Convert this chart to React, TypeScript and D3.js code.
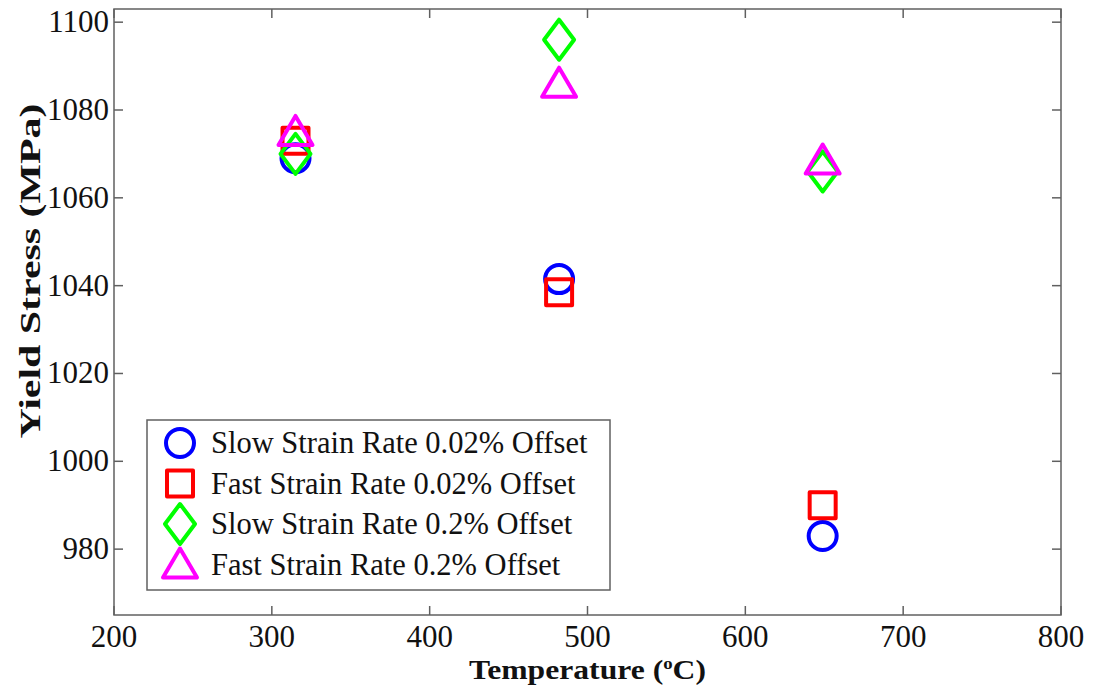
import React from 'react';
import * as d3 from 'd3';

const temperatures = [315, 482, 649];
const slow002 = [1069, 1041.5, 983];
const fast002 = [1073, 1038.5, 990];
const slow02 = [1070, 1096, 1066];
const fast02 = [1075, 1086, 1068.5];
const seriesNames = [
  'Slow Strain Rate 0.02% Offset',
  'Fast Strain Rate 0.02% Offset',
  'Slow Strain Rate 0.2% Offset',
  'Fast Strain Rate 0.2% Offset',
];
const seriesColors = ['#0000ff', '#ff0000', '#00ff00', '#ff00ff'];
const seriesShapes = ['circle', 'square', 'diamond', 'triangle'];
const xTicks = [200, 300, 400, 500, 600, 700, 800];
const yTicks = [980, 1000, 1020, 1040, 1060, 1080, 1100];

const W = 1095;
const H = 685;
const box = { left: 114, right: 1061, top: 9, bottom: 615 };
const font = '"Liberation Serif", "Times New Roman", serif';

// marker outline centered on 0,0
function markerPath(shape: string) {
  const p = d3.path();
  if (shape === 'circle') {
    p.arc(0, 0, 14, 0, Math.PI * 2);
  } else if (shape === 'square') {
    p.rect(-13, -13, 26, 26);
  } else if (shape === 'diamond') {
    p.moveTo(0, -20); p.lineTo(15, 0); p.lineTo(0, 20); p.lineTo(-15, 0);
  } else {
    p.moveTo(0, -16); p.lineTo(17, 13); p.lineTo(-17, 13);
  }
  p.closePath();
  return p.toString();
}

export default function App() {
  const x = d3.scaleLinear().domain([200, 800]).range([box.left, box.right]);
  const y = d3.scaleLinear().domain([965, 1103]).range([box.bottom, box.top]);
  const series = [slow002, fast002, slow02, fast02];
  const axisColor = '#606060';
  const tl = 9;

  return (
    <svg width={W} height={H} style={{ position: 'absolute', left: 0, top: 0, background: '#fff' }}>
      <rect x={box.left} y={box.top} width={box.right - box.left} height={box.bottom - box.top}
        fill="none" stroke={axisColor} strokeWidth={1.5} />
      {xTicks.map(t => (
        <g key={'x' + t}>
          <line x1={x(t)} x2={x(t)} y1={box.bottom} y2={box.bottom - tl} stroke={axisColor} strokeWidth={1.5} />
          <line x1={x(t)} x2={x(t)} y1={box.top} y2={box.top + tl} stroke={axisColor} strokeWidth={1.5} />
          <text x={x(t)} y={box.bottom + 32} textAnchor="middle" fontFamily={font} fontSize={31} fill="#111">{t}</text>
        </g>
      ))}
      {yTicks.map(t => (
        <g key={'y' + t}>
          <line x1={box.left} x2={box.left + tl} y1={y(t)} y2={y(t)} stroke={axisColor} strokeWidth={1.5} />
          <line x1={box.right} x2={box.right - tl} y1={y(t)} y2={y(t)} stroke={axisColor} strokeWidth={1.5} />
          <text x={box.left - 5} y={y(t) + 10} textAnchor="end" fontFamily={font} fontSize={31} fill="#111">{t}</text>
        </g>
      ))}
      <text x={(box.left + box.right) / 2} y={679} textAnchor="middle" fontFamily={font} fontSize={27} fontWeight="bold" fill="#111"
        textLength={237} lengthAdjust="spacingAndGlyphs">
        Temperature (<tspan fontSize={16} dy={-10}>o</tspan><tspan dy={10}>C)</tspan>
      </text>
      <text transform={`translate(40,${271}) rotate(-90)`} textAnchor="middle"
        fontFamily={font} fontSize={29} fontWeight="bold" fill="#111"
        textLength={335} lengthAdjust="spacingAndGlyphs">Yield Stress (MPa)</text>

      {series.map((vals, si) => (
        <g key={'s' + si}>
          {vals.map((v, i) => (
            <path key={i} d={markerPath(seriesShapes[si])} transform={`translate(${x(temperatures[i])},${y(v)})`}
              fill="none" stroke={seriesColors[si]} strokeWidth={4} strokeLinejoin="round" />
          ))}
        </g>
      ))}

      <rect x={147} y={420} width={463} height={170} fill="#fff" stroke={axisColor} strokeWidth={1.5} />
      {seriesNames.map((name, si) => {
        const cy = 443 + si * 40.5;
        return (
          <g key={'l' + si}>
            <path d={markerPath(seriesShapes[si])} transform={`translate(180,${cy})`} fill="none"
              stroke={seriesColors[si]} strokeWidth={4} strokeLinejoin="round" />
            <text x={211} y={cy + 10} fontFamily={font} fontSize={30.5} fill="#111">{name}</text>
          </g>
        );
      })}
    </svg>
  );
}
